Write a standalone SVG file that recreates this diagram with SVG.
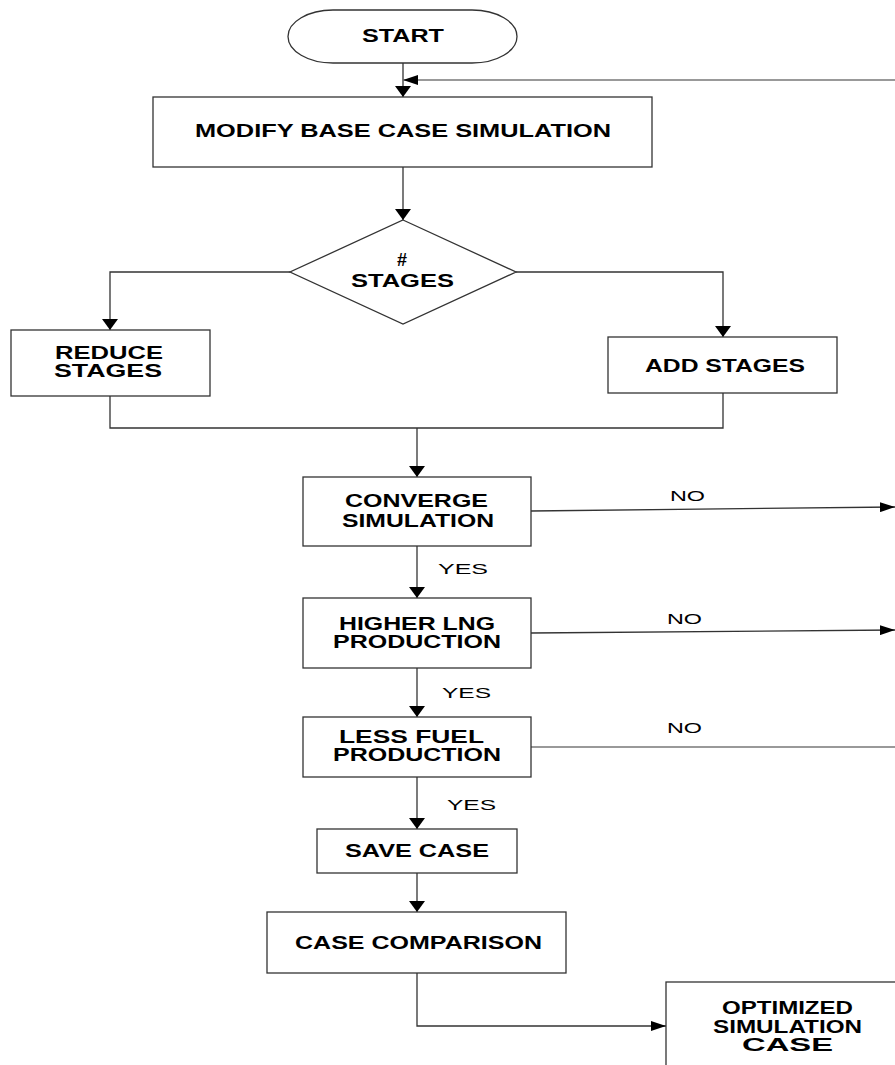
<svg xmlns="http://www.w3.org/2000/svg" width="895" height="1065" viewBox="0 0 895 1065">
<style>
.box{fill:#fff;stroke:#333;stroke-width:1.3}
.b{font-family:"Liberation Sans",Arial,sans-serif;font-weight:bold;font-size:18px;fill:#000;text-anchor:middle}
.r{font-family:"Liberation Sans",Arial,sans-serif;font-size:15.5px;fill:#000;text-anchor:middle}
.c{fill:none;stroke:#333;stroke-width:1.3}
.g{fill:none;stroke:#777;stroke-width:1.6}
</style>
<defs>
<marker id="av" viewBox="0 0 11 16" refX="11" refY="8" markerWidth="11" markerHeight="16" markerUnits="userSpaceOnUse" orient="auto"><path d="M0,0 L11,8 L0,16 z" fill="#000"/></marker>
<marker id="ah" viewBox="0 0 15 10" refX="15" refY="5" markerWidth="15" markerHeight="10" markerUnits="userSpaceOnUse" orient="auto"><path d="M0,0 L15,5 L0,10 z" fill="#000"/></marker>
</defs>
<rect width="895" height="1065" fill="#fff"/>
<g id="connectors">
<line class="c" x1="403" y1="63" x2="403" y2="97" marker-end="url(#av)"/>
<line class="g" x1="895" y1="80" x2="403" y2="80" marker-end="url(#ah)"/>
<line class="c" x1="403" y1="167" x2="403" y2="220" marker-end="url(#av)"/>
<polyline class="c" points="290,272 110,272 110,330" marker-end="url(#av)"/>
<polyline class="c" points="516,272 723,272 723,337" marker-end="url(#av)"/>
<polyline class="c" points="110,396 110,428 723,428 723,393"/>
<line class="c" x1="417" y1="428" x2="417" y2="477" marker-end="url(#av)"/>
<line class="c" x1="417" y1="546" x2="417" y2="598" marker-end="url(#av)"/>
<line class="c" x1="417" y1="668" x2="417" y2="717" marker-end="url(#av)"/>
<line class="c" x1="417" y1="777" x2="417" y2="829" marker-end="url(#av)"/>
<line class="c" x1="417" y1="873" x2="417" y2="912" marker-end="url(#av)"/>
<polyline class="c" points="417,973 417,1026 666,1026" marker-end="url(#ah)"/>
<line class="c" x1="531" y1="511" x2="895" y2="507" marker-end="url(#ah)"/>
<line class="c" x1="531" y1="633" x2="895" y2="630" marker-end="url(#ah)"/>
<line class="g" x1="531" y1="747" x2="895" y2="747"/>
<text class="r" x="687.5" y="501" textLength="35" lengthAdjust="spacingAndGlyphs">NO</text>
<text class="r" x="684.5" y="624" textLength="35" lengthAdjust="spacingAndGlyphs">NO</text>
<text class="r" x="684.5" y="733" textLength="35" lengthAdjust="spacingAndGlyphs">NO</text>
<text class="r" x="463" y="574" textLength="50" lengthAdjust="spacingAndGlyphs">YES</text>
<text class="r" x="466.5" y="698" textLength="49" lengthAdjust="spacingAndGlyphs">YES</text>
<text class="r" x="471.5" y="810" textLength="49" lengthAdjust="spacingAndGlyphs">YES</text>
</g>
<g id="start">
<rect class="box" x="288" y="10" width="229" height="53" rx="45" ry="26.5"/>
<text class="b" x="403" y="42" textLength="82" lengthAdjust="spacingAndGlyphs">START</text>
</g>
<g id="modify">
<rect class="box" x="153" y="97" width="499" height="70"/>
<text class="b" x="403" y="137" textLength="416" lengthAdjust="spacingAndGlyphs">MODIFY BASE CASE SIMULATION</text>
</g>
<g id="stages">
<polygon class="box" points="403,220 516,272 403,324 290,272"/>
<text class="b" x="402" y="266" textLength="10" lengthAdjust="spacingAndGlyphs">#</text>
<text class="b" x="402.5" y="287" textLength="103" lengthAdjust="spacingAndGlyphs">STAGES</text>
</g>
<g id="reduce">
<rect class="box" x="11" y="330" width="199" height="66"/>
<text class="b" x="109" y="359" textLength="108" lengthAdjust="spacingAndGlyphs">REDUCE</text>
<text class="b" x="108" y="377" textLength="108" lengthAdjust="spacingAndGlyphs">STAGES</text>
</g>
<g id="add">
<rect class="box" x="608" y="337" width="229" height="56"/>
<text class="b" x="725" y="372" textLength="160" lengthAdjust="spacingAndGlyphs">ADD STAGES</text>
</g>
<g id="converge">
<rect class="box" x="303" y="477" width="228" height="69"/>
<text class="b" x="416.5" y="507" textLength="143" lengthAdjust="spacingAndGlyphs">CONVERGE</text>
<text class="b" x="418" y="527" textLength="152" lengthAdjust="spacingAndGlyphs">SIMULATION</text>
</g>
<g id="higher">
<rect class="box" x="303" y="598" width="228" height="70"/>
<text class="b" x="417" y="630" textLength="156" lengthAdjust="spacingAndGlyphs">HIGHER LNG</text>
<text class="b" x="417" y="648" textLength="168" lengthAdjust="spacingAndGlyphs">PRODUCTION</text>
</g>
<g id="less">
<rect class="box" x="303" y="717" width="228" height="60"/>
<text class="b" x="411.5" y="743" textLength="145" lengthAdjust="spacingAndGlyphs">LESS FUEL</text>
<text class="b" x="417" y="761" textLength="168" lengthAdjust="spacingAndGlyphs">PRODUCTION</text>
</g>
<g id="save">
<rect class="box" x="317" y="829" width="200" height="44"/>
<text class="b" x="417" y="857" textLength="144" lengthAdjust="spacingAndGlyphs">SAVE CASE</text>
</g>
<g id="comparison">
<rect class="box" x="267" y="912" width="299" height="61"/>
<text class="b" x="418.5" y="949" textLength="247" lengthAdjust="spacingAndGlyphs">CASE COMPARISON</text>
</g>
<g id="optimized">
<rect class="box" x="666" y="982" width="240" height="100"/>
<text class="b" x="787.5" y="1014" textLength="131" lengthAdjust="spacingAndGlyphs">OPTIMIZED</text>
<text class="b" x="787.5" y="1033" textLength="149" lengthAdjust="spacingAndGlyphs">SIMULATION</text>
<text class="b" x="787.5" y="1051" textLength="91" lengthAdjust="spacingAndGlyphs">CASE</text>
</g>
</svg>
